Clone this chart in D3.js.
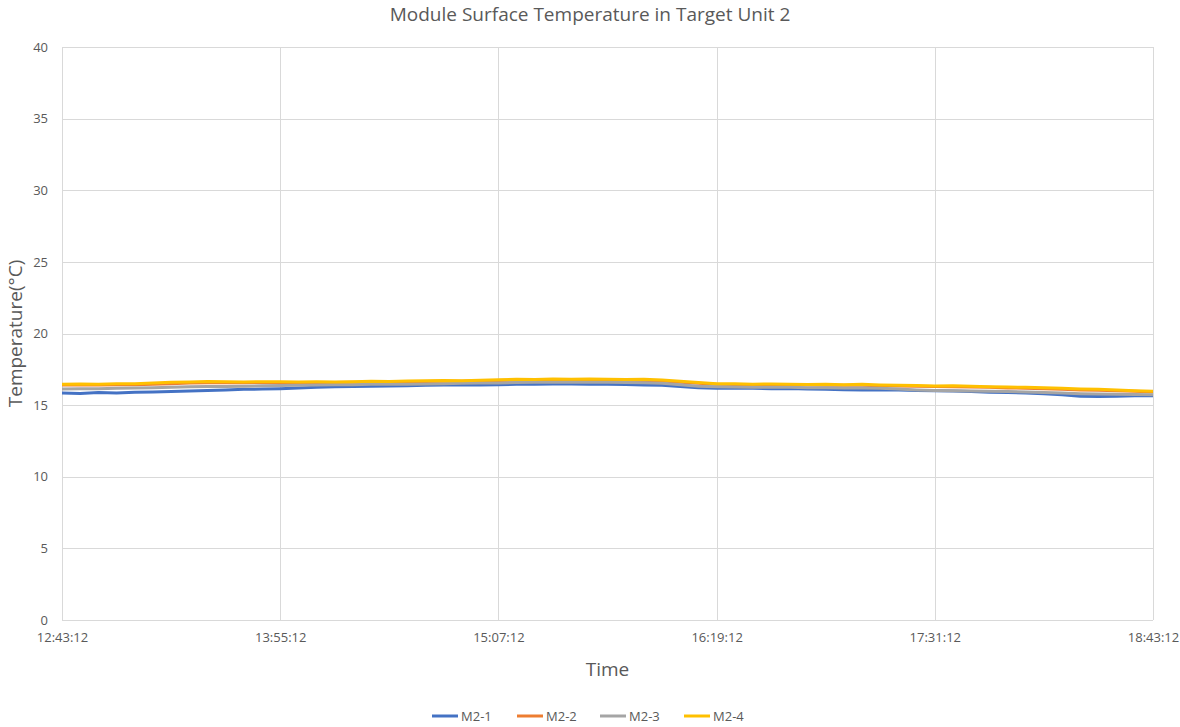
<!DOCTYPE html>
<html>
<head>
<meta charset="utf-8">
<script src="https://cdn.jsdelivr.net/npm/d3@7"></script>
<style>
  html, body { margin: 0; padding: 0; background: #fff; }
  svg { display: block; font-family: "Open Sans", "Liberation Sans", sans-serif; }
</style>
</head>
<body>
<svg id="chart" width="1180" height="727"></svg>
<script>
// Sample times, in minutes after 12:43:12, every 6 minutes
const minutes = d3.range(0, 361, 6);

// Readings per module (°C)
const m2_1 = [15.85,15.82,15.88,15.84,15.9,15.92,15.95,15.98,16.02,16.05,16.1,16.12,16.15,16.2,16.25,16.28,16.3,16.32,16.33,16.35,16.38,16.4,16.42,16.4,16.43,16.45,16.46,16.48,16.47,16.45,16.46,16.44,16.4,16.38,16.3,16.22,16.18,16.2,16.17,16.15,16.16,16.12,16.1,16.08,16.06,16.08,16.05,16.02,16.0,15.98,15.95,15.9,15.88,15.85,15.8,15.72,15.62,15.6,15.62,15.65,15.66];
const m2_2 = [16.4,16.42,16.4,16.43,16.42,16.45,16.5,16.55,16.56,16.58,16.57,16.58,16.58,16.56,16.57,16.58,16.6,16.6,16.62,16.63,16.65,16.66,16.66,16.7,16.72,16.74,16.75,16.76,16.77,16.76,16.75,16.74,16.72,16.68,16.6,16.52,16.46,16.44,16.42,16.42,16.4,16.4,16.39,16.38,16.38,16.36,16.34,16.32,16.3,16.28,16.26,16.24,16.2,16.18,16.15,16.1,16.06,16.04,16.0,15.96,15.92];
const m2_3 = [16.12,16.15,16.14,16.18,16.2,16.22,16.25,16.28,16.3,16.3,16.32,16.35,16.37,16.38,16.4,16.42,16.43,16.45,16.46,16.46,16.48,16.5,16.52,16.54,16.55,16.58,16.6,16.6,16.62,16.6,16.6,16.58,16.56,16.52,16.42,16.32,16.28,16.26,16.25,16.24,16.24,16.22,16.22,16.2,16.2,16.18,16.12,16.06,16.02,16.0,15.98,15.96,15.95,15.92,15.88,15.84,15.8,15.78,15.76,15.74,15.72];
const m2_4 = [16.46,16.48,16.46,16.5,16.49,16.55,16.6,16.62,16.65,16.63,16.62,16.64,16.63,16.62,16.63,16.62,16.64,16.66,16.65,16.68,16.7,16.72,16.71,16.74,16.78,16.8,16.79,16.82,16.8,16.83,16.81,16.79,16.8,16.75,16.66,16.58,16.5,16.49,16.46,16.48,16.46,16.44,16.45,16.43,16.45,16.41,16.39,16.37,16.34,16.35,16.31,16.29,16.27,16.24,16.21,16.17,16.13,16.1,16.06,16.01,15.97];

const seriesNames = ["M2-1", "M2-2", "M2-3", "M2-4"];
const seriesValues = [m2_1, m2_2, m2_3, m2_4];
const seriesColors = ["#4472C4", "#ED7D31", "#A5A5A5", "#FFC000"];

const xTickMinutes = [0, 72, 144, 216, 288, 360];
const xTickLabels = ["12:43:12", "13:55:12", "15:07:12", "16:19:12", "17:31:12", "18:43:12"];
const yTicks = [0, 5, 10, 15, 20, 25, 30, 35, 40];

const svg = d3.select("#chart");
const margin = { left: 62, right: 27, top: 47, bottom: 107 };
const W = 1180, H = 727;

const x = d3.scaleLinear().domain([0, 360]).range([margin.left, W - margin.right]);
const y = d3.scaleLinear().domain([0, 40]).range([H - margin.bottom, margin.top]);

const textColor = "#595959";
const gridColor = "#d9d9d9";

// Horizontal gridlines
svg.append("g")
  .selectAll("line")
  .data(yTicks)
  .join("line")
  .attr("x1", x(0)).attr("x2", x(360))
  .attr("y1", d => Math.round(y(d)) + 0.5).attr("y2", d => Math.round(y(d)) + 0.5)
  .attr("stroke", gridColor).attr("stroke-width", 1);

// Vertical gridlines
svg.append("g")
  .selectAll("line")
  .data(xTickMinutes)
  .join("line")
  .attr("x1", d => Math.round(x(d)) + 0.5).attr("x2", d => Math.round(x(d)) + 0.5)
  .attr("y1", y(0)).attr("y2", y(40))
  .attr("stroke", gridColor).attr("stroke-width", 1);

// Y axis labels
const yAxis = svg.append("g")
  .attr("transform", `translate(${margin.left},0)`)
  .call(d3.axisLeft(y).tickValues(yTicks).tickSize(0).tickPadding(14));
yAxis.select(".domain").remove();
yAxis.selectAll("text").attr("fill", textColor).style("font-size", "13px")
  .style("font-family", "\"Open Sans\", sans-serif");

// X axis labels
const xAxis = svg.append("g")
  .attr("transform", `translate(0,${y(0)})`)
  .call(d3.axisBottom(x).tickValues(xTickMinutes)
    .tickFormat((d, i) => xTickLabels[i]).tickSize(0).tickPadding(13));
xAxis.select(".domain").remove();
xAxis.selectAll("text").attr("fill", textColor).style("font-size", "13px")
  .style("font-family", "\"Open Sans\", sans-serif");

// Series lines
const line = d3.line()
  .x((d, i) => x(minutes[i]))
  .y(d => y(d));

svg.append("g")
  .selectAll("path")
  .data(seriesValues)
  .join("path")
  .attr("d", d => line(d))
  .attr("fill", "none")
  .attr("stroke", (d, i) => seriesColors[i])
  .attr("stroke-width", 3)
  .attr("stroke-linejoin", "round");

// Title
svg.append("text")
  .attr("x", 590).attr("y", 21)
  .attr("text-anchor", "middle")
  .attr("fill", textColor)
  .style("font-size", "19px")
  .text("Module Surface Temperature in Target Unit 2");

// Axis titles
svg.append("text")
  .attr("x", x(180)).attr("y", 676)
  .attr("text-anchor", "middle")
  .attr("fill", textColor)
  .style("font-size", "19px")
  .text("Time");

svg.append("text")
  .attr("transform", `translate(22,${y(20)}) rotate(-90)`)
  .attr("text-anchor", "middle")
  .attr("fill", textColor)
  .style("font-size", "19px")
  .text("Temperature(°C)");

// Legend
const legendX = [432, 517, 600, 684];
const legend = svg.append("g");
const items = legend.selectAll("g")
  .data(seriesNames)
  .join("g")
  .attr("transform", (d, i) => `translate(${legendX[i]},716)`);
items.append("line")
  .attr("x1", 0).attr("x2", 26).attr("y1", 0).attr("y2", 0)
  .attr("stroke", (d, i) => seriesColors[i]).attr("stroke-width", 3);
items.append("text")
  .attr("x", 29).attr("y", 4.5)
  .attr("fill", textColor)
  .style("font-size", "13px")
  .text(d => d);
</script>
</body>
</html>
